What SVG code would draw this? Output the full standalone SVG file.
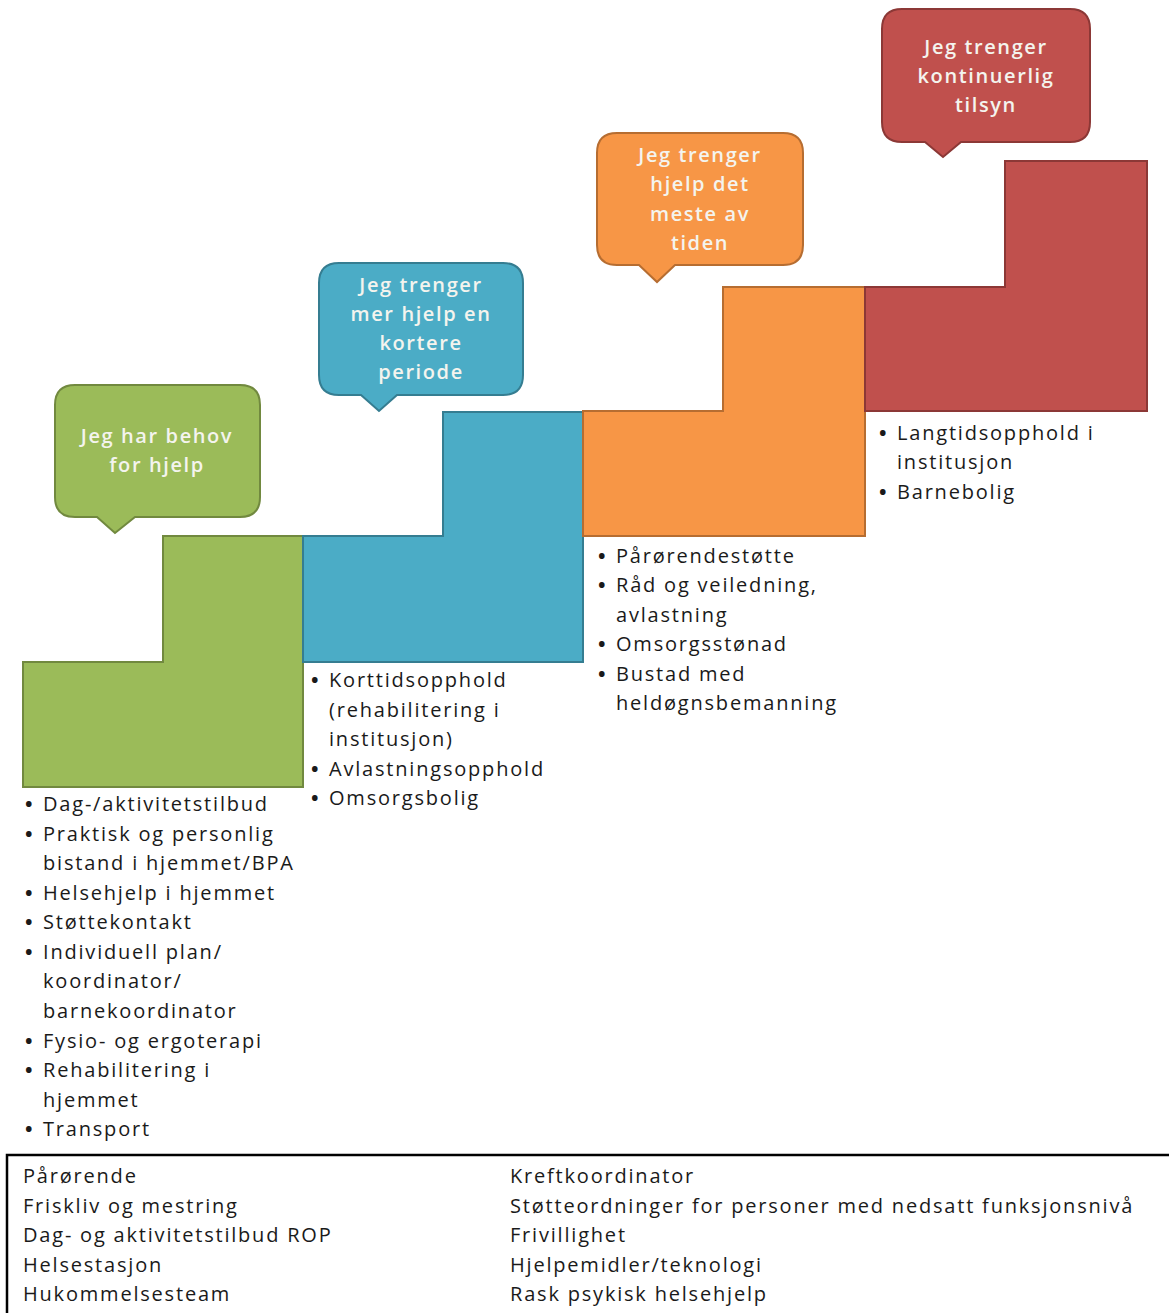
<svg xmlns="http://www.w3.org/2000/svg" width="1169" height="1313" viewBox="0 0 1169 1313">
  <style>
    .step { stroke-width: 2; }
    .green { fill: #9BBB59; stroke: #71893F; }
    .blue { fill: #4BACC6; stroke: #357D91; }
    .orange { fill: #F79646; stroke: #B66D31; }
    .red { fill: #C0504D; stroke: #8C3836; }
    .bubble-text { font-family: "Open Sans", "Liberation Sans", sans-serif; font-size: 20px; font-weight: 600; letter-spacing: 1.6px; fill: #F4F4EE; text-anchor: middle; }
    .list { font-family: "Open Sans", "Liberation Sans", sans-serif; font-size: 20px; font-weight: 500; letter-spacing: 1.8px; fill: #1A1A1A; }
    .bullet { font-weight: 700; }
    .box-text { font-family: "Open Sans", "Liberation Sans", sans-serif; font-size: 20px; letter-spacing: 1.8px; fill: #1A1A1A; }
  </style>
  <rect width="1169" height="1313" fill="#FFFFFF"/>

  <!-- staircase steps -->
  <g id="step-green">
    <path class="step green" d="M23,662 L163,662 L163,536 L303,536 L303,787 L23,787 Z"/>
  </g>
  <g id="step-blue">
    <path class="step blue" d="M303,536 L443,536 L443,412 L583,412 L583,662 L303,662 Z"/>
  </g>
  <g id="step-orange">
    <path class="step orange" d="M583,411 L723,411 L723,287 L865,287 L865,536 L583,536 Z"/>
  </g>
  <g id="step-red">
    <path class="step red" d="M865,287 L1005,287 L1005,161 L1147,161 L1147,411 L865,411 Z"/>
  </g>

  <!-- speech bubbles -->
  <g id="bubble-green">
    <path class="step green" d="M75,385 H240 Q260,385 260,405 V497 Q260,517 240,517 H135 L115,533 L97,517 H75 Q55,517 55,497 V405 Q55,385 75,385 Z"/>
    <text class="bubble-text" x="157" y="443">Jeg har behov</text>
    <text class="bubble-text" x="157" y="472">for hjelp</text>
  </g>
  <g id="bubble-blue">
    <path class="step blue" d="M339,263 H503 Q523,263 523,283 V375 Q523,395 503,395 H397 L379,411 L361,395 H339 Q319,395 319,375 V283 Q319,263 339,263 Z"/>
    <text class="bubble-text" x="421" y="292">Jeg trenger</text>
    <text class="bubble-text" x="421" y="321">mer hjelp en</text>
    <text class="bubble-text" x="421" y="350">kortere</text>
    <text class="bubble-text" x="421" y="379">periode</text>
  </g>
  <g id="bubble-orange">
    <path class="step orange" d="M617,133 H783 Q803,133 803,153 V245 Q803,265 783,265 H675 L657,282 L639,265 H617 Q597,265 597,245 V153 Q597,133 617,133 Z"/>
    <text class="bubble-text" x="700" y="162">Jeg trenger</text>
    <text class="bubble-text" x="700" y="191">hjelp det</text>
    <text class="bubble-text" x="700" y="221">meste av</text>
    <text class="bubble-text" x="700" y="250">tiden</text>
  </g>
  <g id="bubble-red">
    <path class="step red" d="M902,9 H1070 Q1090,9 1090,29 V122 Q1090,142 1070,142 H961 L943,157 L925,142 H902 Q882,142 882,122 V29 Q882,9 902,9 Z"/>
    <text class="bubble-text" x="986" y="54">Jeg trenger</text>
    <text class="bubble-text" x="986" y="83">kontinuerlig</text>
    <text class="bubble-text" x="986" y="112">tilsyn</text>
  </g>

  <!-- service lists under each step -->
  <g id="list-green" class="list">
    <text class="bullet" x="25" y="811">•</text><text x="43" y="811">Dag-/aktivitetstilbud</text>
    <text class="bullet" x="25" y="841">•</text><text x="43" y="841">Praktisk og personlig</text>
    <text x="43" y="870">bistand i hjemmet/BPA</text>
    <text class="bullet" x="25" y="900">•</text><text x="43" y="900">Helsehjelp i hjemmet</text>
    <text class="bullet" x="25" y="929">•</text><text x="43" y="929">Støttekontakt</text>
    <text class="bullet" x="25" y="959">•</text><text x="43" y="959">Individuell plan/</text>
    <text x="43" y="988">koordinator/</text>
    <text x="43" y="1018">barnekoordinator</text>
    <text class="bullet" x="25" y="1048">•</text><text x="43" y="1048">Fysio- og ergoterapi</text>
    <text class="bullet" x="25" y="1077">•</text><text x="43" y="1077">Rehabilitering i</text>
    <text x="43" y="1107">hjemmet</text>
    <text class="bullet" x="25" y="1136">•</text><text x="43" y="1136">Transport</text>
  </g>
  <g id="list-blue" class="list">
    <text class="bullet" x="311" y="687">•</text><text x="329" y="687">Korttidsopphold</text>
    <text x="329" y="717">(rehabilitering i</text>
    <text x="329" y="746">institusjon)</text>
    <text class="bullet" x="311" y="776">•</text><text x="329" y="776">Avlastningsopphold</text>
    <text class="bullet" x="311" y="805">•</text><text x="329" y="805">Omsorgsbolig</text>
  </g>
  <g id="list-orange" class="list">
    <text class="bullet" x="598" y="563">•</text><text x="616" y="563">Pårørendestøtte</text>
    <text class="bullet" x="598" y="592">•</text><text x="616" y="592">Råd og veiledning,</text>
    <text x="616" y="622">avlastning</text>
    <text class="bullet" x="598" y="651">•</text><text x="616" y="651">Omsorgsstønad</text>
    <text class="bullet" x="598" y="681">•</text><text x="616" y="681">Bustad med</text>
    <text x="616" y="710">heldøgnsbemanning</text>
  </g>
  <g id="list-red" class="list">
    <text class="bullet" x="879" y="440">•</text><text x="897" y="440">Langtidsopphold i</text>
    <text x="897" y="469">institusjon</text>
    <text class="bullet" x="879" y="499">•</text><text x="897" y="499">Barnebolig</text>
  </g>

  <!-- general services box -->
  <g id="general-services">
    <rect x="7" y="1155" width="1180" height="200" fill="none" stroke="#000000" stroke-width="2.5"/>
    <g class="box-text">
      <text x="23" y="1183">Pårørende</text>
      <text x="23" y="1213">Friskliv og mestring</text>
      <text x="23" y="1242">Dag- og aktivitetstilbud ROP</text>
      <text x="23" y="1272">Helsestasjon</text>
      <text x="23" y="1301">Hukommelsesteam</text>
      <text x="510" y="1183">Kreftkoordinator</text>
      <text x="510" y="1213">Støtteordninger for personer med nedsatt funksjonsnivå</text>
      <text x="510" y="1242">Frivillighet</text>
      <text x="510" y="1272">Hjelpemidler/teknologi</text>
      <text x="510" y="1301">Rask psykisk helsehjelp</text>
    </g>
  </g>
</svg>
